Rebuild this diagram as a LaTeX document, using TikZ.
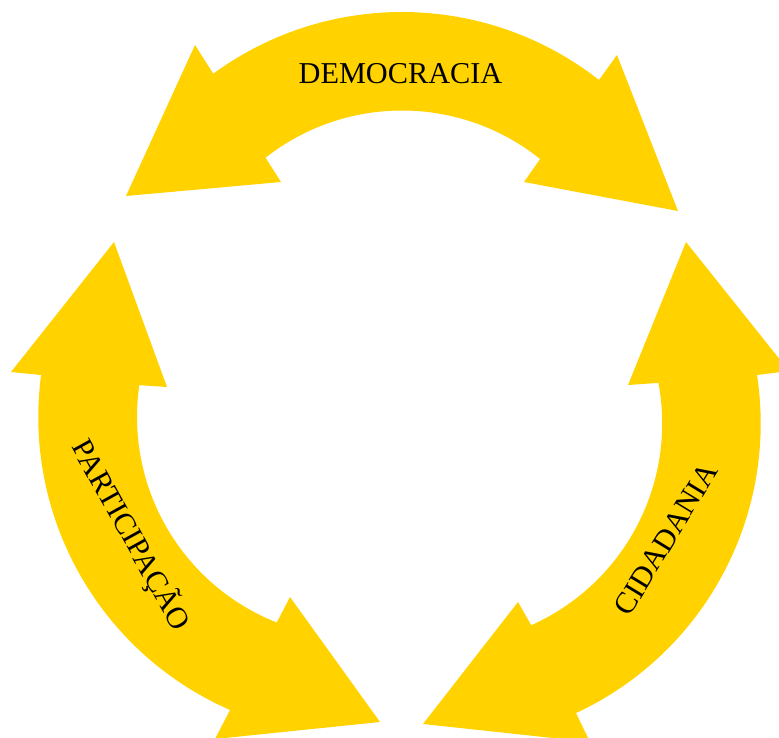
\documentclass[tikz,border=0pt]{standalone}
\usepackage{fontspec}
\setmainfont{Liberation Serif}
\definecolor{arrowyellow}{RGB}{255,210,0}
\tikzset{
  cyclearrow/.style={fill=arrowyellow, draw=none},
  lbl/.style={font=\fontsize{30.3}{36}\selectfont, text=black, inner sep=0pt},
}
\begin{document}
\begin{tikzpicture}[x=1pt,y=-1pt]
\useasboundingbox (0,0) rectangle (779,738);
\begin{scope}
\clip (0,0) rectangle (779,738);
% top arrow (DEMOCRACIA)
\fill[cyclearrow] (126,196) -- (195,45)
  -- ([shift={(402,331.5)}]-126.21:319.5) arc[start angle=-126.21, end angle=-51.93, radius=319.5]
  -- (617,55) -- (678,211) -- (524,182)
  -- ([shift={(402,331.5)}]-51.30:221) arc[start angle=-51.30, end angle=-128.14, radius=221]
  -- (281,182) -- cycle;
% left arrow (PARTICIPACAO)
\fill[cyclearrow] (114,242) -- (11,372)
  -- ([shift={(358,417)}]187.55:319.7) arc[start angle=187.55, end angle=113.60, radius=319.7]
  -- (215,739) -- (380,722) -- (290,597)
  -- ([shift={(358,417)}]111.56:221) arc[start angle=111.56, end angle=188.28, radius=221]
  -- (167,387) -- cycle;
% right arrow (CIDADANIA)
\fill[cyclearrow] (686,242) -- (789,371)
  -- ([shift={(441.2,423.4)}]-8.71:319.5) arc[start angle=-8.71, end angle=65.04, radius=319.5]
  -- (590,742) -- (423,724) -- (518,602)
  -- ([shift={(441.2,423.4)}]65.96:221) arc[start angle=65.96, end angle=-10.56, radius=221]
  -- (628,385) -- cycle;
\end{scope}
\node[lbl, anchor=base] (democracia) at (400.5,83.3) {DEMOCRACIA};
\node[lbl, anchor=base, rotate=-61] (participacao) at (122.8,539.9) {PARTICIPAÇÃO};
\node[lbl, anchor=base, rotate=58.6] (cidadania) at (674.3,544.2) {CIDADANIA};
\end{tikzpicture}
\end{document}
